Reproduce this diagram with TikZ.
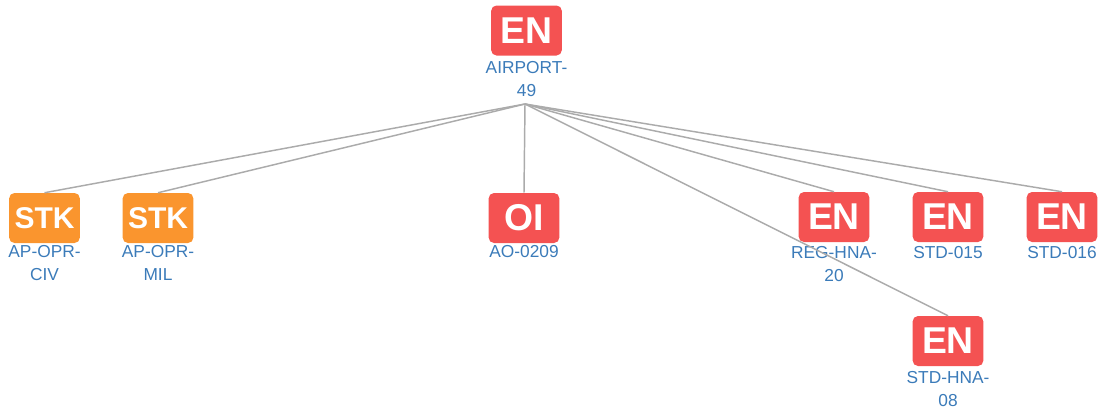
\documentclass[tikz,border=0pt]{standalone}
\usepackage{fontspec}
\setmainfont{Liberation Sans}
\definecolor{enred}{HTML}{F45252}
\definecolor{stkorange}{HTML}{FA952E}
\definecolor{lblblue}{HTML}{3B7BB9}
\definecolor{edgegray}{HTML}{ABABAB}
\tikzset{
  tagbox/.style={fill=enred, rounded corners=4pt, minimum width=53pt, minimum height=37.5pt, inner sep=0pt, text=white, font=\bfseries\fontsize{28}{28}\selectfont},
  stkbox/.style={tagbox, fill=stkorange, font=\bfseries\fontsize{22.5}{22.5}\selectfont},
  tagname/.style={anchor=north, inner sep=0pt, text=lblblue, align=center, font=\fontsize{13}{17.25}\selectfont},
  edge/.style={draw=edgegray, line width=1.1pt}
}
\begin{document}
\begin{tikzpicture}[x=0.75pt,y=0.75pt,yscale=-1,xscale=1]
\useasboundingbox (0,0) rectangle (1104,412);

% Root
\node[tagbox] (airport) at (526.5,30.5) {EN};
\node[tagname] (airportlbl) at (526.5,61) {AIRPORT-\\49};
\coordinate (hub) at (525,104);

% Children
\node[stkbox] (civ) at (44.5,218) {STK};
\node[tagname] (civlbl) at (44.5,245) {AP-OPR-\\CIV};
\node[stkbox] (mil) at (158,218) {STK};
\node[tagname] (millbl) at (158,245) {AP-OPR-\\MIL};
\node[tagbox] (ao) at (524,218) {OI};
\node[tagname] (aolbl) at (524,245) {AO-0209};
\node[tagbox] (reg) at (834,217) {EN};
\node[tagname] (reglbl) at (834,246) {REG-HNA-\\20};
\node[tagbox] (stda) at (948,217) {EN};
\node[tagname] (stdalbl) at (948,246) {STD-015};
\node[tagbox] (stdb) at (1062,217) {EN};
\node[tagname] (stdblbl) at (1062,246) {STD-016};
\node[tagbox] (stdhna) at (948,341) {EN};
\node[tagname] (stdhnalbl) at (948,371) {STD-HNA-\\08};

% Edges
\foreach \t in {civ,mil,ao,reg,stda,stdb,stdhna}
  \draw[edge] (hub) -- (\t.north);

\end{tikzpicture}
\end{document}
